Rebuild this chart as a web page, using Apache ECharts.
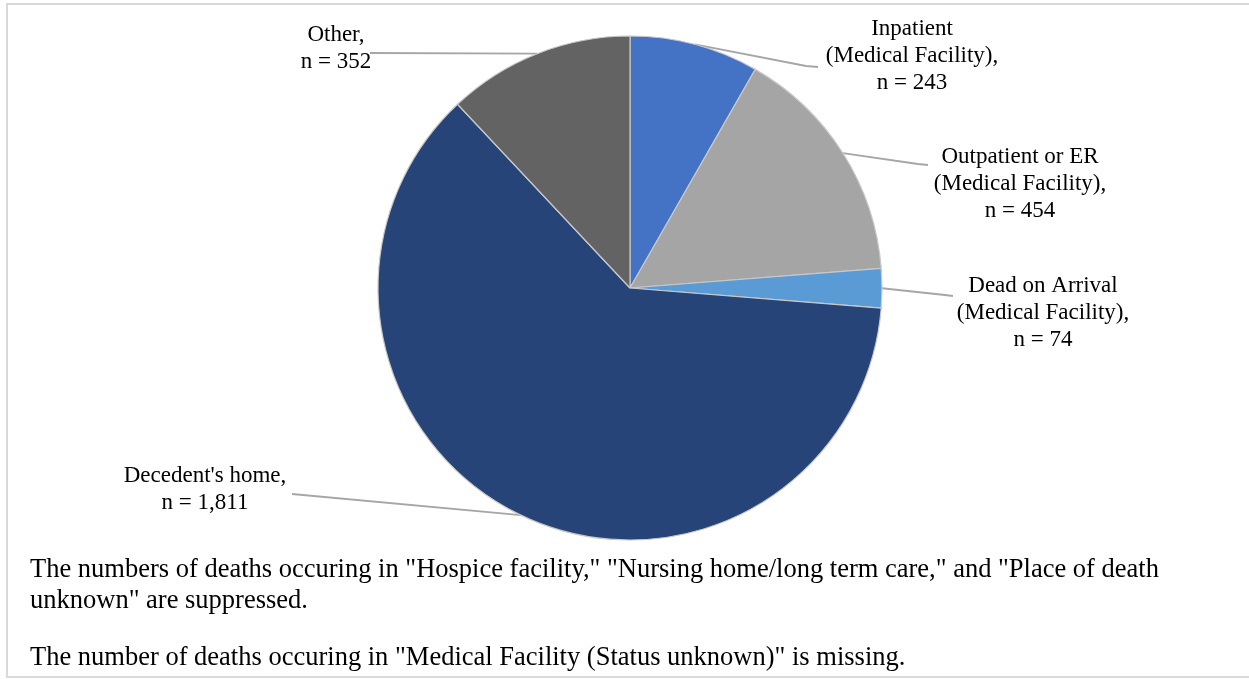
<!DOCTYPE html>
<html>
<head>
<meta charset="utf-8">
<script src="https://cdn.jsdelivr.net/npm/echarts@6/dist/echarts.min.js"></script>
<style>
  html, body { margin: 0; padding: 0; background: #fff; }
  #frame {
    position: absolute; left: 6px; top: 3px; width: 1243px; height: 671px;
    border-top: 2px solid #d9d9d9; border-left: 2px solid #d9d9d9; border-bottom: 2px solid #d9d9d9;
  }
  #chart { position: absolute; left: 0; top: 0; width: 1249px; height: 679px; }
</style>
</head>
<body>
<div id="frame"></div>
<div id="chart"></div>
<script>
  // place of death, clockwise from 12 o'clock
  const places = [
    'Inpatient\n(Medical Facility)',
    'Outpatient or ER\n(Medical Facility)',
    'Dead on Arrival\n(Medical Facility)',
    'Decedent\'s home',
    'Other'
  ]
  const deaths = [243, 454, 74, 1811, 352]
  const notes = [
    'The numbers of deaths occuring in "Hospice facility," "Nursing home/long term care," and "Place of death\nunknown" are suppressed.',
    'The number of deaths occuring in "Medical Facility (Status unknown)" is missing.'
  ]

  const colors = ['#4472c4', '#a5a5a5', '#5b9bd5', '#264478', '#636363']

  // where each label block sits (centre) and where its leader line ends
  const labelSpots = [
    {x: 912, y: 56, ex: 818, ey: 67, bend: 12},
    {x: 1020, y: 184, ex: 928, ey: 165, bend: 10},
    {x: 1043, y: 313, ex: 953, ey: 296, bend: 8},
    {x: 205, y: 489, ex: 292, ey: 494, bend: 0},
    {x: 336, y: 48, ex: 370, ey: 53, bend: 0}
  ]

  const chart = echarts.init(document.getElementById('chart'))

  const option = {
    animation: false,
    backgroundColor: 'transparent',
    textStyle: {fontFamily: 'Liberation Serif'},
    graphic: [
      {
        type: 'text',
        left: 30,
        top: 555,
        style: {text: notes[0], font: '26.5px "Liberation Serif"', fill: '#000', lineHeight: 31}
      },
      {
        type: 'text',
        left: 30,
        top: 643,
        style: {text: notes[1], font: '26.5px "Liberation Serif"', fill: '#000', lineHeight: 31}
      }
    ],
    series: [{
      type: 'pie',
      center: [630, 288],
      radius: 252,
      startAngle: 90,
      clockwise: true,
      avoidLabelOverlap: false,
      itemStyle: {borderColor: '#c8c8c8', borderWidth: 1.2},
      label: {
        show: true,
        position: 'outside',
        color: '#000',
        fontFamily: 'Liberation Serif',
        fontSize: 23,
        lineHeight: 27,
        formatter (p) {
          return p.name + ',\nn = ' + p.value.toLocaleString('en-US')
        }
      },
      labelLine: {
        show: true,
        length: 10,
        length2: 10,
        lineStyle: {color: '#a6a6a6', width: 1.8}
      },
      labelLayout (params) {
        const spot = labelSpots[params.dataIndex]
        const start = params.labelLinePoints[0]
        const side = spot.ex > start[0] ? 1 : -1
        const points = spot.bend
          ? [start, [spot.ex - side * spot.bend, spot.ey - 1], [spot.ex, spot.ey]]
          : [start, [spot.ex, spot.ey]]
        return {
          x: spot.x,
          y: spot.y,
          align: 'center',
          verticalAlign: 'middle',
          labelLinePoints: points
        }
      },
      data: places.map((name, i) => ({
        name,
        value: deaths[i],
        itemStyle: {color: colors[i]}
      }))
    }]
  }

  chart.setOption(option)
</script>
</body>
</html>
